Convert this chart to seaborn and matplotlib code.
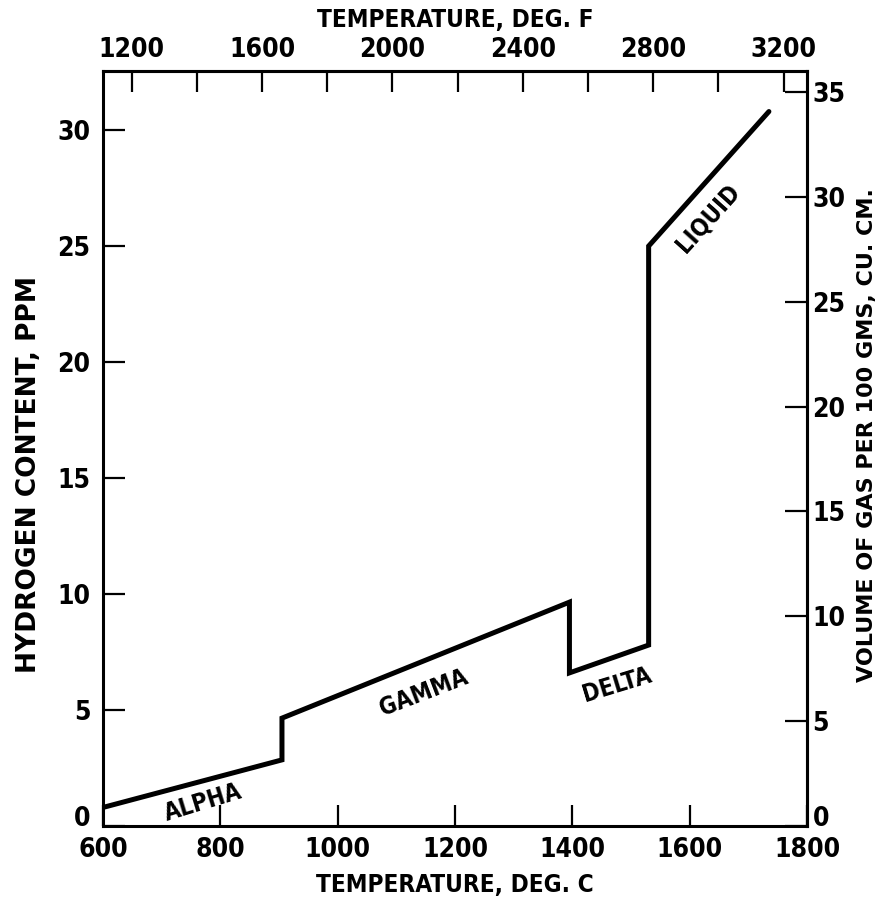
import matplotlib
matplotlib.use("Agg")
import matplotlib.pyplot as plt
import numpy as np
import pandas as pd
import seaborn as sns

# Hydrogen solubility in iron across its phases
temp_c = [600, 905, 905, 1395, 1395, 1530, 1530, 1735]
hydrogen_ppm = [0.8, 2.85, 4.65, 9.65, 6.6, 7.8, 25.0, 30.8]

phase_names = ["ALPHA", "GAMMA", "DELTA", "LIQUID"]
phase_label_x = [770, 1147, 1476, 1631]
phase_label_y = [1.0, 5.75, 6.1, 26.2]
phase_label_rot = [17, 21, 17, 48]

bottom_ticks = [600, 800, 1000, 1200, 1400, 1600, 1800]
left_ticks = [0, 5, 10, 15, 20, 25, 30]
right_ticks = [0, 5, 10, 15, 20, 25, 30, 35]
top_major = [1200, 1600, 2000, 2400, 2800, 3200]
top_minor = [1400, 1800, 2200, 2600, 3000]

CC_PER_PPM = 1.106

sns.set_theme(style="white")
plt.rcParams["font.family"] = ["DejaVu Sans"]
plt.rcParams["font.stretch"] = "condensed"
plt.rcParams["font.weight"] = "bold"

cond = dict(family=["DejaVu Sans"], weight="bold", stretch="condensed")
wide = dict(family=["DejaVu Sans"], weight="bold", stretch="normal")

df = pd.DataFrame({"temp": temp_c, "h": hydrogen_ppm})

fig = plt.figure(figsize=(8.89, 9.05), dpi=100)
ax = fig.add_axes([0.1159, 0.0873, 0.7919, 0.8343])
sns.lineplot(data=df, x="temp", y="h", sort=False, estimator=None,
             color="black", linewidth=3.6, ax=ax,
             solid_joinstyle="miter")

ax.set_xlim(600, 1800)
ax.set_ylim(0, 32.55)
for s in ax.spines.values():
    s.set_linewidth(2.2)
    s.set_color("black")

fs = 19
ax.set_xticks(bottom_ticks)
ax.set_yticks(left_ticks)
ax.tick_params(axis="x", direction="in", length=15, width=1.6, pad=8,
               labelsize=fs, colors="black", bottom=True, top=False)
ax.tick_params(axis="y", direction="in", length=16, width=1.6, pad=9,
               labelsize=fs, colors="black", left=True, right=False)
ax.set_xlabel("TEMPERATURE, DEG. C", fontsize=17.5, labelpad=7,
              color="black", **cond)
ax.set_ylabel("HYDROGEN CONTENT, PPM", fontsize=19, color="black", **wide)
ax.yaxis.set_label_coords(-0.087, 0.465)

# Fahrenheit scale on top
top = ax.secondary_xaxis("top", functions=(lambda c: c * 9 / 5 + 32,
                                           lambda f: (f - 32) * 5 / 9))
top.set_xticks(top_major)
top.set_xticks(top_minor, minor=True)
top.tick_params(axis="x", which="both", direction="in", length=15,
                width=1.6, pad=6, labelsize=fs, colors="black")
top.set_xlabel("TEMPERATURE, DEG. F", fontsize=17.5, labelpad=7,
               color="black", **cond)
top.spines["top"].set_linewidth(2.2)

# Gas volume scale on the right
right = ax.secondary_yaxis("right", functions=(lambda p: p * CC_PER_PPM,
                                               lambda v: v / CC_PER_PPM))
right.set_yticks(right_ticks)
right.tick_params(axis="y", direction="in", length=16, width=1.6, pad=4,
                  labelsize=fs, colors="black")
right.set_ylabel("VOLUME OF GAS PER 100 GMS, CU. CM.", fontsize=16,
                 color="black", **wide)
right.yaxis.set_label_coords(1.071, 0.518, transform=ax.transAxes)
right.spines["right"].set_linewidth(2.2)

# Lift the zero labels clear of the corner temperatures
ax.get_yticklabels()[0].set_verticalalignment("baseline")
right.get_yticklabels()[0].set_verticalalignment("baseline")

for name, x, y, r in zip(phase_names, phase_label_x, phase_label_y,
                         phase_label_rot):
    ax.text(x, y, name, fontsize=fs - 2, rotation=r, rotation_mode="anchor",
            ha="center", va="center", color="black")

fig.savefig("out.png", dpi=100)
